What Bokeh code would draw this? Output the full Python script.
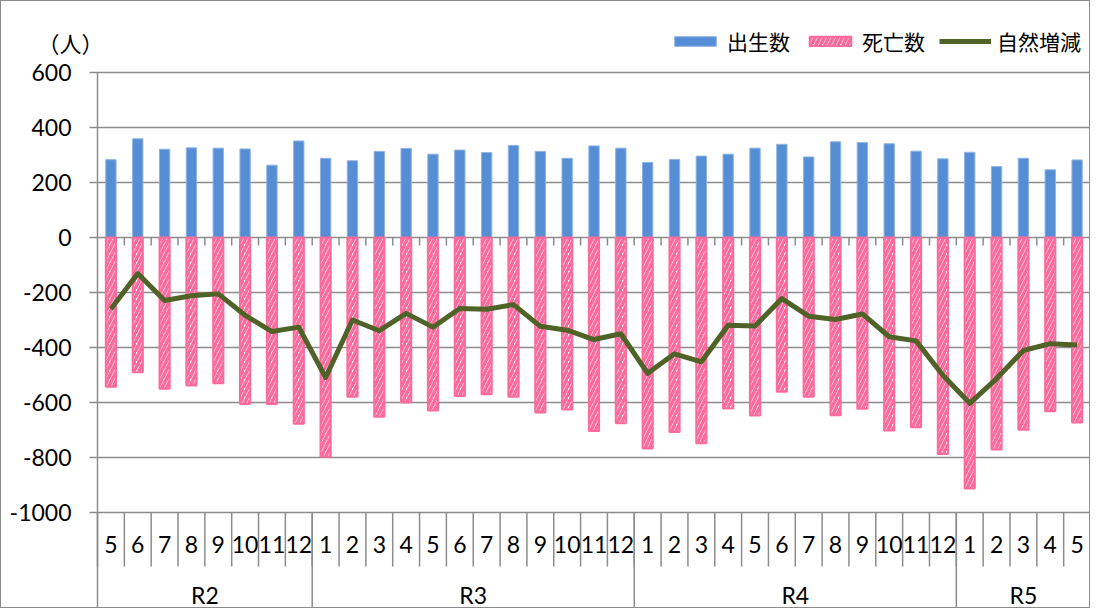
from bokeh.plotting import figure
from bokeh.models import Range1d, Legend, LegendItem
from bokeh.embed import file_html
from bokeh.resources import INLINE
from bokeh.core.properties import value

# ---- data ----
years = ["R2", "R3", "R4", "R5"]
year_counts = [8, 12, 12, 5]
months = ["5", "6", "7", "8", "9", "10", "11", "12",
          "1", "2", "3", "4", "5", "6", "7", "8", "9", "10", "11", "12",
          "1", "2", "3", "4", "5", "6", "7", "8", "9", "10", "11", "12",
          "1", "2", "3", "4", "5"]
births = [283, 359, 321, 326, 325, 322, 263, 351,
          288, 279, 313, 324, 303, 318, 309, 335, 313, 288, 333, 325,
          273, 284, 296, 303, 325, 339, 293, 348, 345, 341, 314, 286,
          310, 258, 288, 246, 282]
deaths = [-543, -490, -550, -538, -530, -605, -605, -677,
          -797, -579, -652, -600, -629, -576, -570, -579, -636, -625, -704, -675,
          -767, -707, -748, -622, -647, -561, -579, -646, -623, -702, -690, -787,
          -913, -771, -699, -632, -673]
natural = [-260, -131, -229, -212, -205, -283, -342, -326,
           -509, -300, -339, -276, -326, -258, -261, -244, -323, -337, -371, -350,
           -494, -423, -452, -319, -322, -222, -286, -298, -278, -361, -376, -501,
           -603, -513, -411, -386, -391]
y_ticks = [-1000, -800, -600, -400, -200, 0, 200, 400, 600]
y_labels = ["-1000", "-800", "-600", "-400", "-200", "0", "200", "400", "600"]
unit_label = "（人）"

# ---- layout ----
n = len(months)
W, H = 1090, 608
CANVAS_LEFT, CANVAS_TOP = 2, 2   # picture position of the canvas
PLOT_L, PLOT_R = 98, 1091        # picture columns of the category axis ends
Y600, PX = 73, 0.275             # picture row of the 600 line, px per unit
CW = (PLOT_R - PLOT_L) / n       # px per category


def xv(px):
    return (px - PLOT_L) / CW


def yv(py):
    return 600 - (py - Y600) / PX


x_start, x_end = xv(CANVAS_LEFT), xv(CANVAS_LEFT + W)
y_top, y_bot = yv(CANVAS_TOP), yv(CANVAS_TOP + H)

GRID = "#8c8c8c"
BLUE = "#558ED5"
PINK = "#FF6A9C"
GREEN = "#4F6228"
FONT = value("Lato")

p = figure(width=W, height=H, x_range=Range1d(x_start, x_end), y_range=Range1d(y_bot, y_top),
           output_backend="svg", toolbar_location=None,
           x_axis_location=None, y_axis_location=None,
           min_border_left=0, min_border_right=0, min_border_top=0, min_border_bottom=0)
p.styles = {"border": "1px solid #8c8c8c"}
p.outline_line_color = None
p.xgrid.visible = False
p.ygrid.visible = False
p.background_fill_color = "white"
p.border_fill_color = "white"

# value axis: gridlines with outward tick stubs, axis line, tick labels
nt = len(y_ticks)
p.segment(x0=[xv(PLOT_L - 8)] * nt, y0=y_ticks, x1=[n] * nt, y1=y_ticks,
          line_color=GRID, line_width=1.5)
p.text(x=[xv(72)] * nt, y=y_ticks, text=y_labels, text_align="right",
       text_baseline="middle", text_font=FONT, text_font_size="23px", text_color="black")
p.text(x=[xv(38)], y=[yv(42)], text=[unit_label], text_align="left",
       text_baseline="middle", text_font=value("Noto Sans CJK JP"),
       text_font_size="22px", text_color="black")

xc = [i + 0.5 for i in range(n)]

rb = p.vbar(x=xc, top=births, bottom=0, width=0.385, fill_color=BLUE,
            line_color="#8DB3E2", line_width=1)
rd = p.vbar(x=xc, top=0, bottom=deaths, width=0.38, fill_color="white",
            line_color=PINK, line_width=2, hatch_pattern="/", hatch_color=PINK,
            hatch_weight=3.5, hatch_scale=9)
rl = p.line(xc, natural, line_color=GREEN, line_width=5, line_join="round")

# small category ticks on the zero line
bx = list(range(1, n + 1))
p.segment(x0=bx, y0=[0] * len(bx), x1=bx, y1=[-29] * len(bx),
          line_color=GRID, line_width=1.5)

# month separators
mb = list(range(0, n + 1))
p.segment(x0=mb, y0=[-1000] * len(mb), x1=mb, y1=[yv(567)] * len(mb),
          line_color=GRID, line_width=1.5)
# year separators (the first one continues the value axis line)
yb = [0]
for c in year_counts:
    yb.append(yb[-1] + c)
p.segment(x0=yb, y0=[-1000] * len(yb), x1=yb, y1=[y_bot] * len(yb),
          line_color=GRID, line_width=1.5)
p.segment(x0=[0], y0=[600], x1=[0], y1=[-1000], line_color=GRID, line_width=1.5)

# category labels
p.text(x=xc, y=[yv(545)] * n, text=months, text_align="center", text_baseline="middle",
       text_font=FONT, text_font_size="23px", text_color="black")
ycent = [(yb[i] + yb[i + 1]) / 2 for i in range(len(years))]
p.text(x=ycent, y=[yv(595)] * len(years), text=years, text_align="center",
       text_baseline="middle", text_font=FONT, text_font_size="23px", text_color="black")

legend = Legend(items=[LegendItem(label="出生数", renderers=[rb]),
                       LegendItem(label="死亡数", renderers=[rd]),
                       LegendItem(label="自然増減", renderers=[rl])],
                orientation="horizontal", location=(670 - CANVAS_LEFT, CANVAS_TOP + H - 57),
                glyph_width=52, glyph_height=12, label_standoff=6, spacing=14,
                padding=0, margin=0, border_line_color=None, background_fill_alpha=0,
                label_text_font="Noto Sans CJK JP", label_text_font_size="21px",
                label_text_color="black")
p.add_layout(legend)

open("out.html", "w").write(file_html(p, INLINE))
